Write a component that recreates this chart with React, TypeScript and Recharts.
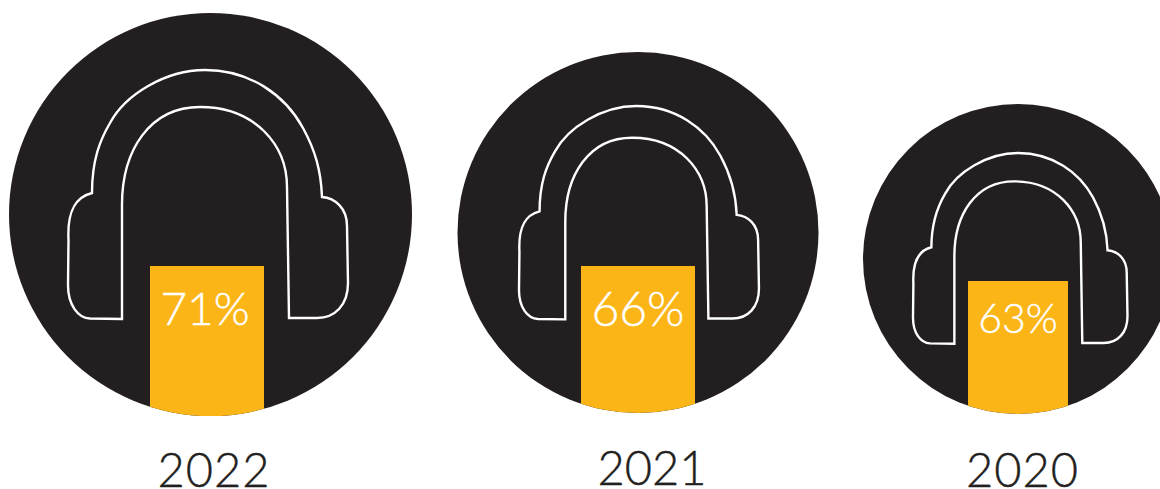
import { Bar, BarChart, LabelList, XAxis, YAxis } from "recharts";

const years = ["2022", "2021", "2020"];
const shares = [71, 66, 63];

const INK = "#231f20";
const AMBER = "#fbb516";
const FONT = "Lato, sans-serif";

// Geometry of each disc on the page
const discs = [
  { cx: 210.5, top: 13, r: 201.5, barX: 207, barW: 114, barH: 150, panelW: 420, gearX: 68, gearY: 70, gearScale: 1, labelSize: 46, labelDy: 59, yearSpacing: 1, yearX: 214, yearY: 487 },
  { cx: 638, top: 52, r: 180.5, barX: 638, barW: 114, barH: 147, panelW: 372, gearX: 519, gearY: 106, gearScale: 0.857, labelSize: 48, labelDy: 60, yearSpacing: 0, yearX: 652, yearY: 485 },
  { cx: 1018, top: 104, r: 155, barX: 1018, barW: 100, barH: 133, panelW: 340, gearX: 913, gearY: 153, gearScale: 0.766, labelSize: 41, labelDy: 52, yearSpacing: 1, yearX: 1022.5, yearY: 487 },
];

// Headphone outline, drawn at full size from its top-left corner
const HEADPHONES =
  "M54,249 L22,248.5 C10,248 0,235 0,215 L0.5,170 C-1,140 8,127 24,123 " +
  "C24,90 32,70 42,53 C57,25 97,0 137,0 C182,0 217,25 235,58 C247,80 253,100 254,127 " +
  "C267,128 279,138 279,156 L280,213 C280,235 267,248 249,248 L221,248 L219,117 " +
  "C219,75 187,37 132,37 C82,37 54,80 54,135 Z";

function DiscPanel({ index }: { index: number }) {
  const d = discs[index];
  const data = [{ year: years[index], share: shares[index] }];
  const left = d.barX - d.panelW / 2;
  const bottomGap = 489 - (d.top + d.r * 2);
  const clipId = `disc-clip-${index}`;
  const cxLocal = d.cx - left;
  const cyLocal = d.top + d.r;

  const renderBar = (p: any) => (
    <g>
      <clipPath id={clipId}>
        <circle cx={cxLocal} cy={cyLocal} r={d.r} />
      </clipPath>
      <rect x={p.x} y={p.y} width={p.width} height={p.height} fill={AMBER} clipPath={`url(#${clipId})`} />
    </g>
  );

  const renderLabel = (p: any) => (
    <text
      x={p.x + p.width / 2 + (index === 0 ? -2 : 0)}
      y={p.y + d.labelDy}
      fill="#fff"
      stroke="#fff"
      strokeWidth={0.4}
      textAnchor="middle"
      fontFamily={FONT}
      fontWeight={300}
      fontSize={d.labelSize}
    >
      {`${p.value}%`}
    </text>
  );

  const renderYear = (p: any) => (
    <text
      x={d.yearX - left}
      y={d.yearY}
      fill={INK}
      stroke={INK}
      strokeWidth={0.4}
      textAnchor="middle"
      fontFamily={FONT}
      fontWeight={300}
      fontSize={47}
      letterSpacing={d.yearSpacing}
    >
      {p.payload.value}
    </text>
  );

  return (
    <div style={{ position: "absolute", left, top: 0 }}>
      <BarChart
        width={d.panelW}
        height={489}
        data={data}
        margin={{ top: d.top, right: 0, bottom: 0, left: 0 }}
      >
        <circle cx={cxLocal} cy={cyLocal} r={d.r} fill={INK} />
        <XAxis dataKey="year" height={bottomGap} axisLine={false} tickLine={false} tick={renderYear} />
        <YAxis hide domain={[0, (shares[index] * d.r * 2) / d.barH]} />
        <Bar dataKey="share" barSize={d.barW} shape={renderBar} isAnimationActive={false}>
          <LabelList dataKey="share" content={renderLabel} />
        </Bar>
        <path
          d={HEADPHONES}
          transform={`translate(${d.gearX - left},${d.gearY}) scale(${d.gearScale})`}
          fill="none"
          stroke="#fff"
          strokeWidth={2.4 / d.gearScale}
        />
      </BarChart>
    </div>
  );
}

export default function App() {
  return (
    <div style={{ position: "absolute", left: 0, top: 0, width: 1160, height: 489, overflow: "hidden", background: "#fff" }}>
      {years.map((year, i) => (
        <DiscPanel key={year} index={i} />
      ))}
    </div>
  );
}
